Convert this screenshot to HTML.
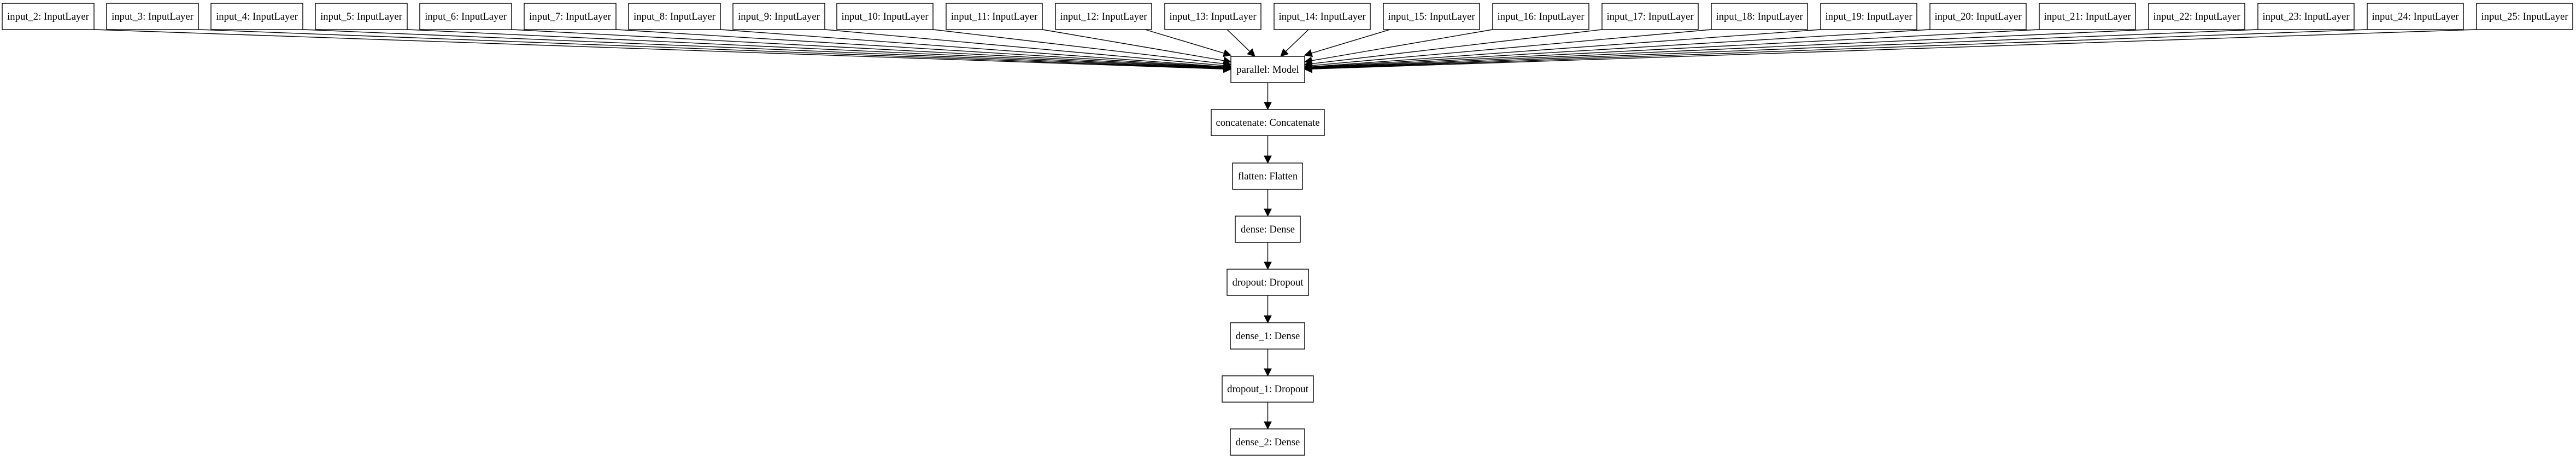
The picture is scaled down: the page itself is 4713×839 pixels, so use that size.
<!DOCTYPE html>
<html><head><meta charset="utf-8"><style>
html,body{margin:0;padding:0;background:#fff;}
svg{display:block;}
text{font-family:"Liberation Serif",serif;font-size:18.67px;text-anchor:middle;fill:#000;}
rect{fill:#fff;stroke:#000;stroke-width:1.4;}
</style></head><body>
<svg id="s" width="4713" height="839" viewBox="0 0 4713 839" xmlns="http://www.w3.org/2000/svg">
<g id="edges" fill="none" stroke="#000" stroke-width="1.4"></g>
<g id="heads" fill="#000" stroke="#000" stroke-width="1"></g>
<g>
<rect x="4" y="6" width="168" height="48"/><text x="88" y="36">input_2: InputLayer</text>
<rect x="195" y="6" width="168" height="48"/><text x="279" y="36">input_3: InputLayer</text>
<rect x="386" y="6" width="168" height="48"/><text x="470" y="36">input_4: InputLayer</text>
<rect x="577" y="6" width="168" height="48"/><text x="661" y="36">input_5: InputLayer</text>
<rect x="768" y="6" width="168" height="48"/><text x="852" y="36">input_6: InputLayer</text>
<rect x="959" y="6" width="168" height="48"/><text x="1043" y="36">input_7: InputLayer</text>
<rect x="1150" y="6" width="168" height="48"/><text x="1234" y="36">input_8: InputLayer</text>
<rect x="1341" y="6" width="168" height="48"/><text x="1425" y="36">input_9: InputLayer</text>
<rect x="1531" y="6" width="176" height="48"/><text x="1619" y="36">input_10: InputLayer</text>
<rect x="1731" y="6" width="176" height="48"/><text x="1819" y="36">input_11: InputLayer</text>
<rect x="1931" y="6" width="176" height="48"/><text x="2019" y="36">input_12: InputLayer</text>
<rect x="2131" y="6" width="176" height="48"/><text x="2219" y="36">input_13: InputLayer</text>
<rect x="2331" y="6" width="176" height="48"/><text x="2419" y="36">input_14: InputLayer</text>
<rect x="2531" y="6" width="176" height="48"/><text x="2619" y="36">input_15: InputLayer</text>
<rect x="2731" y="6" width="176" height="48"/><text x="2819" y="36">input_16: InputLayer</text>
<rect x="2931" y="6" width="176" height="48"/><text x="3019" y="36">input_17: InputLayer</text>
<rect x="3131" y="6" width="176" height="48"/><text x="3219" y="36">input_18: InputLayer</text>
<rect x="3331" y="6" width="176" height="48"/><text x="3419" y="36">input_19: InputLayer</text>
<rect x="3531" y="6" width="176" height="48"/><text x="3619" y="36">input_20: InputLayer</text>
<rect x="3731" y="6" width="176" height="48"/><text x="3819" y="36">input_21: InputLayer</text>
<rect x="3931" y="6" width="176" height="48"/><text x="4019" y="36">input_22: InputLayer</text>
<rect x="4131" y="6" width="176" height="48"/><text x="4219" y="36">input_23: InputLayer</text>
<rect x="4331" y="6" width="176" height="48"/><text x="4419" y="36">input_24: InputLayer</text>
<rect x="4531" y="6" width="176" height="48"/><text x="4619" y="36">input_25: InputLayer</text>

<rect x="2252" y="103" width="135" height="48"/><text x="2319.5" y="133">parallel: Model</text>
<rect x="2216" y="200" width="207" height="48"/><text x="2319.5" y="230">concatenate: Concatenate</text>
<rect x="2255" y="298" width="128" height="48"/><text x="2319.5" y="328">flatten: Flatten</text>
<rect x="2260" y="395" width="119" height="48"/><text x="2319.5" y="425">dense: Dense</text>
<rect x="2245" y="492" width="149" height="48"/><text x="2319.5" y="522">dropout: Dropout</text>
<rect x="2251" y="590" width="136" height="48"/><text x="2319.5" y="620">dense_1: Dense</text>
<rect x="2236" y="687" width="167" height="48"/><text x="2319.5" y="717">dropout_1: Dropout</text>
<rect x="2251" y="784" width="136" height="48"/><text x="2319.5" y="814">dense_2: Dense</text>
</g>
</svg>
<script>
(function(){
var E=document.getElementById('edges'),H=document.getElementById('heads');
function path(d){var p=document.createElementNS('http://www.w3.org/2000/svg','path');p.setAttribute('d',d);E.appendChild(p);}
function head(tx,ty,ang){var L=13,W=6.5,c=Math.cos(ang),s=Math.sin(ang);
 var bx=tx-L*c,by=ty-L*s;var p=document.createElementNS('http://www.w3.org/2000/svg','polygon');
 p.setAttribute('points',tx+','+ty+' '+(bx-W*s)+','+(by+W*c)+' '+(bx+W*s)+','+(by-W*c));H.appendChild(p);}
function edge(sx,sy,tx,ty){var a=Math.atan2(ty-sy,tx-sx);var bx=tx-13*Math.cos(a),by=ty-13*Math.sin(a);
 path('M'+sx+','+sy+' L'+bx+','+by);head(tx,ty,a);}
var xs={};
for(var n=2;n<=9;n++)xs[n]=[4+(n-2)*191,168];
for(var n=10;n<=25;n++)xs[n]=[1531+(n-10)*200,176];
var cx=2319.5;
edge(2245,54,2296,103);
edge(2394,54,2343,103);
function ey(k){if(k==0)return 101;if(k==1)return 113;if(k==2)return 118;if(k==3)return 121;return Math.min(123+(k-4)*0.6,127.5);}
for(var n=2;n<=12;n++){var k=12-n;var sx=xs[n][0]+xs[n][1]-(k==0?12:0);edge(sx,54,2252,ey(k));}
for(var n=15;n<=25;n++){var k=n-15;var sx=xs[n][0]+(k==0?12:0);edge(sx,54,2387,ey(k));}
var ch=[[151,200],[248,298],[346,395],[443,492],[540,590],[638,687],[735,784]];
ch.forEach(function(c){edge(cx,c[0],cx,c[1]);});
})();
</script>
</body></html>
